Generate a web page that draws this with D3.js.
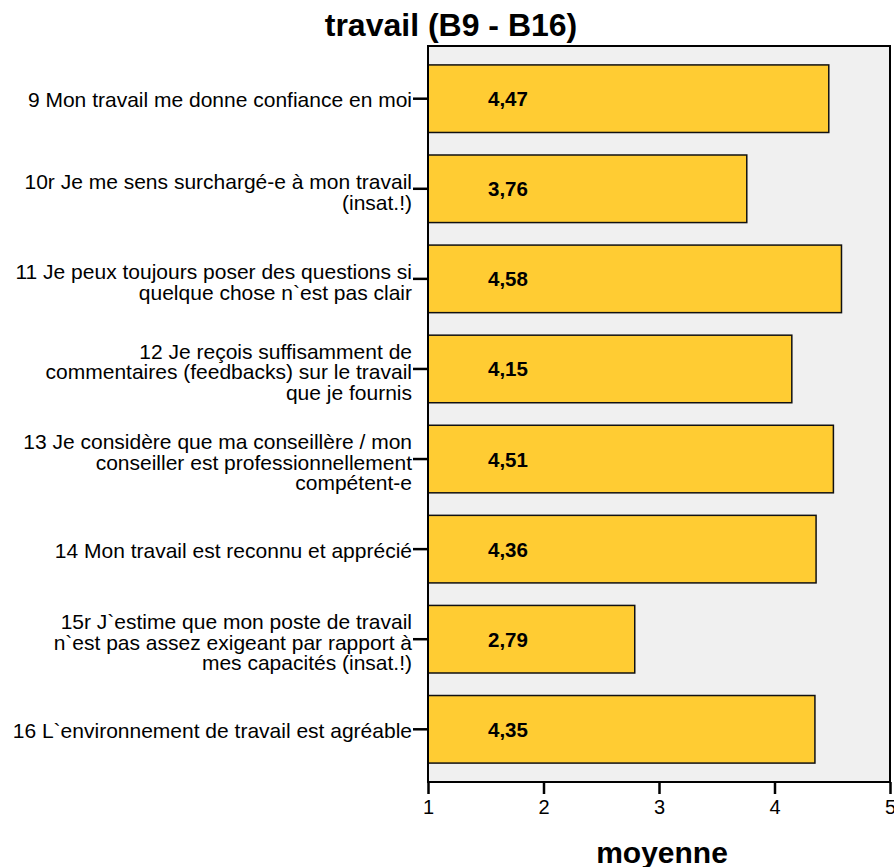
<!DOCTYPE html>
<html><head><meta charset="utf-8">
<script src="https://cdn.jsdelivr.net/npm/d3@7"></script>
<style>body{margin:0;background:#fff}svg{display:block;font-family:"Liberation Sans",Arial,sans-serif}</style>
</head><body>
<svg id="c" width="894" height="867"></svg>
<script>
const categories = [
  ["9 Mon travail me donne confiance en moi"],
  ["10r Je me sens surchargé-e à mon travail", "(insat.!)"],
  ["11 Je peux toujours poser des questions si", "quelque chose n`est pas clair"],
  ["12 Je reçois suffisamment de", "commentaires (feedbacks) sur le travail", "que je fournis"],
  ["13 Je considère que ma conseillère / mon", "conseiller est professionnellement", "compétent-e"],
  ["14 Mon travail est reconnu et apprécié"],
  ["15r J`estime que mon poste de travail", "n`est pas assez exigeant par rapport à", "mes capacités (insat.!)"],
  ["16 L`environnement de travail est agréable"]
];
const values = [4.47, 3.76, 4.58, 4.15, 4.51, 4.36, 2.79, 4.35];
const valueLabels = ["4,47", "3,76", "4,58", "4,15", "4,51", "4,36", "2,79", "4,35"];
const xTicks = [1, 2, 3, 4, 5];
const title = "travail (B9 - B16)";
const xTitle = "moyenne";

const svg = d3.select("#c");
const L = 428, R = 890, T = 46, B = 782;
const x = d3.scaleLinear().domain([1, 5]).range([L, R]);
const y = d3.scaleBand().domain(d3.range(categories.length)).range([T, B]).paddingInner(0.25).paddingOuter(0.21);

svg.append("rect").attr("x", L).attr("y", T).attr("width", R - L).attr("height", B - T)
  .attr("fill", "#f0f0f0");

svg.selectAll("rect.bar").data(values).join("rect").attr("class", "bar")
  .attr("x", x(1)).attr("y", (d, i) => y(i))
  .attr("width", d => x(d) - x(1)).attr("height", y.bandwidth())
  .attr("fill", "#ffcc33").attr("stroke", "#111").attr("stroke-width", 1.5);

svg.selectAll("text.val").data(valueLabels).join("text").attr("class", "val")
  .attr("x", 488).attr("y", (d, i) => y(i) + y.bandwidth() / 2)
  .attr("dominant-baseline", "central").attr("font-weight", "bold").attr("font-size", 20.5)
  .attr("fill", "#000").text(d => d);

svg.append("rect").attr("x", L).attr("y", T).attr("width", R - L).attr("height", B - T)
  .attr("fill", "none").attr("stroke", "#000").attr("stroke-width", 2);

// x axis
const xa = svg.append("g").attr("transform", `translate(0,${B})`)
  .call(d3.axisBottom(x).tickValues(xTicks).tickSize(12).tickPadding(6).tickFormat(d3.format("d")));
xa.select(".domain").remove();
xa.selectAll("line").attr("stroke", "#000").attr("stroke-width", 2.5);
xa.selectAll("text").attr("font-size", 20).attr("fill", "#000").attr("font-family", "Liberation Sans, Arial, sans-serif");

// y axis ticks and labels
const ya = svg.append("g");
categories.forEach((lines, i) => {
  const cy = y(i) + y.bandwidth() / 2;
  ya.append("line").attr("x1", L - 15).attr("x2", L).attr("y1", cy).attr("y2", cy)
    .attr("stroke", "#000").attr("stroke-width", 2.5);
  const lh = 20.5;
  const n = lines.length;
  const off = n === 1 ? 1 : 3;
  const t = ya.append("text").attr("text-anchor", "end").attr("font-size", 21).attr("fill", "#000");
  lines.forEach((s, j) => {
    t.append("tspan").attr("x", L - 16)
      .attr("y", cy + off + (j - (n - 1) / 2) * lh).attr("dominant-baseline", "central").text(s);
  });
});

svg.append("text").attr("x", 451).attr("y", 25).attr("text-anchor", "middle")
  .attr("dominant-baseline", "central").attr("font-weight", "bold").attr("font-size", 32).text(title);

svg.append("text").attr("x", 662).attr("y", 852).attr("text-anchor", "middle")
  .attr("dominant-baseline", "central").attr("font-weight", "bold").attr("font-size", 30).text(xTitle);
</script>
</body></html>
